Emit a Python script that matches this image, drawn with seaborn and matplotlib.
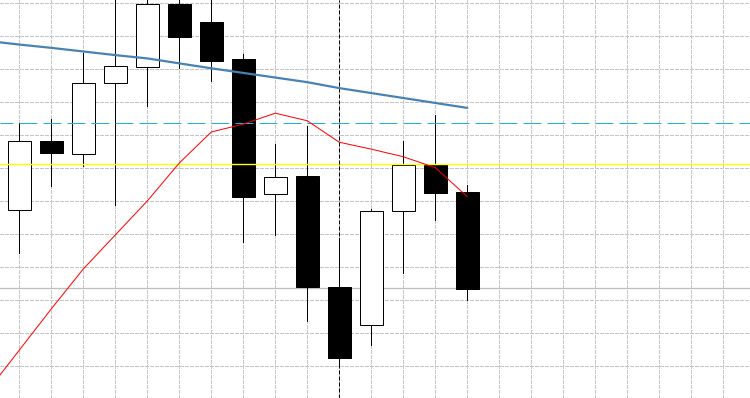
import numpy as np
import pandas as pd
import matplotlib
matplotlib.use("Agg")
import matplotlib.pyplot as plt
import seaborn as sns

# ---- data ----
bar_index = list(range(1, 16))
opens  = [104.73, 106.82, 106.42, 108.58, 109.06, 110.98, 110.43, 109.31, 105.21, 105.77, 102.40, 101.24, 104.70, 106.10, 105.28]
highs  = [107.36, 107.50, 109.50, 111.55, 111.71, 111.40, 111.19, 109.46, 106.74, 107.29, 103.88, 104.76, 106.83, 107.62, 105.49]
lows   = [103.42, 105.47, 106.08, 104.90, 107.90, 109.04, 108.65, 103.78, 103.98, 101.38, 100.01, 100.65, 102.82, 104.43, 102.01]
closes = [106.82, 106.47, 108.58, 109.09, 110.97, 109.99, 109.26, 105.14, 105.73, 102.41, 100.26, 104.70, 106.10, 105.26, 102.35]

line_index = list(range(0, 16))
ma_values = [99.24, 100.49, 101.74, 102.95, 103.98, 105.01, 106.16, 107.10, 107.34, 107.67,
             107.44, 106.79, 106.58, 106.35, 106.02, 105.14]
trend_values = [109.86, 109.75, 109.65, 109.54, 109.43, 109.33, 109.18, 109.03, 108.89, 108.75,
                108.61, 108.43, 108.28, 108.13, 107.98, 107.83]

level_yellow = 106.12
level_dashed = 107.36
level_gray = 102.36
vline_index = 11

grid_x = list(range(1, 24))
grid_y = list(range(100, 112))

# ---- figure ----
sns.set_theme(style="white")
PX = 72 / 100.0  # one pixel in points

fig = plt.figure(figsize=(7.5, 3.98), dpi=100)
ax = fig.add_axes([0, 0, 1, 1])
ax.set_facecolor("white")

ax.set_xticks(grid_x)
ax.set_yticks(grid_y)
ax.grid(True, color="#c6c6c6", linewidth=PX, linestyle=(0, (3, 2)), antialiased=False)
ax.set_axisbelow(True)
ax.tick_params(labelbottom=False, labelleft=False, length=0)
for s in ax.spines.values():
    s.set_visible(False)

# level line behind candles
ax.axhline(level_gray, color="#bdbdbd", linewidth=1.3 * PX, zorder=1.5)

# candles
df = pd.DataFrame({"i": bar_index, "o": opens, "h": highs, "l": lows, "c": closes})
df["bottom"] = df[["o", "c"]].min(axis=1)
df["height"] = (df["c"] - df["o"]).abs()
df["fill"] = np.where(df["c"] >= df["o"], "white", "black")

ax.vlines(df["i"], df["l"], df["h"], color="black", linewidth=PX, zorder=2, antialiased=False)
ax.bar(df["i"], df["height"], bottom=df["bottom"], width=0.72, color=df["fill"],
       edgecolor="black", linewidth=PX, zorder=3)

# level lines on top
ax.axhline(level_dashed, color="#1fb0e4", linewidth=PX, linestyle=(5, (18, 6)), zorder=4)
ax.axhline(level_yellow, color="#ffff00", linewidth=1.4 * PX, zorder=4)
ax.axvline(vline_index, color="black", linewidth=PX, linestyle=(0, (4, 2)), zorder=4)

# moving average and trend line
sns.lineplot(x=line_index, y=ma_values, color="red", linewidth=PX, ax=ax, zorder=5)
sns.lineplot(x=line_index, y=trend_values, color="#4682b4", linewidth=2.2 * PX, ax=ax, zorder=5)

ax.set_xlim(0.397, 23.834)
ax.set_ylim(111.1 - 398 / 33.0, 111.1)
ax.set_xlabel("")
ax.set_ylabel("")

fig.savefig("out.png", dpi=100)
